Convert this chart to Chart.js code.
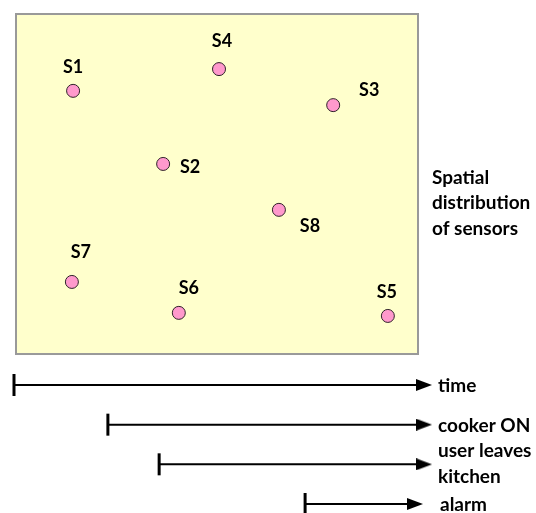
<!DOCTYPE html>
<html>
<head>
<meta charset="utf-8">
<script src="https://cdn.jsdelivr.net/npm/chart.js@4.4.1/dist/chart.umd.min.js"></script>
<style>
  html, body { margin: 0; padding: 0; background: #ffffff; }
  #wrap { width: 536px; height: 513px; position: relative; }
</style>
</head>
<body>
<div id="wrap"><canvas id="c"></canvas></div>
<script>
// ---- Data ----
const sensorNames = ['S1', 'S2', 'S3', 'S4', 'S5', 'S6', 'S7', 'S8'];
const sensorX = [1.42, 3.66, 7.89, 5.05, 9.25, 4.05, 1.39, 6.54];   // room x (0-10)
const sensorY = [7.74, 5.59, 7.32, 8.38, 1.12, 1.21, 2.12, 4.24];   // room y (0-10)

const eventLabels = [['time'], ['cooker ON'], ['user leaves', 'kitchen'], ['alarm']];
const eventStart = [0, 22.9, 35.4, 71.0];
const eventEnd = [100, 100, 100, 97.8];
const eventRow = [0, 1, 2, 3];

const sideTitle = ['Spatial', 'distribution', 'of sensors'];

// ---- Styles / layout ----
// label offset from its sensor (px), baseline-based
const labelOffsets = [[0, -18], [27, 9], [36, -9], [3, -22], [-1, -18], [10, -19], [9, -24], [31, 22]];
const labelIndent = [20, 20, 20, 22];
const FONT = 'Lato, "Open Sans", "Liberation Sans", sans-serif';

// arrowhead image
const arrowImg = document.createElement('canvas');
arrowImg.width = 16; arrowImg.height = 12;
(function () {
  const g = arrowImg.getContext('2d');
  g.fillStyle = '#000';
  g.beginPath();
  g.moveTo(0, 0); g.lineTo(16, 6); g.lineTo(0, 12); g.closePath();
  g.fill();
})();

const datasets = [{
  type: 'scatter',
  xAxisID: 'x', yAxisID: 'y',
  data: sensorX.map((x, i) => ({ x: x, y: sensorY[i] })),
  pointRadius: 6.5,
  pointBackgroundColor: '#FF99CC',
  pointBorderColor: '#2e2228',
  pointBorderWidth: 1,
  clip: false
}];

eventStart.forEach((s, i) => {
  datasets.push({
    type: 'line',
    xAxisID: 'xt', yAxisID: 'yr',
    data: [{ x: s, y: eventRow[i] }, { x: eventEnd[i], y: eventRow[i] }],
    borderColor: '#000',
    borderWidth: 2,
    pointStyle: ['line', arrowImg],
    pointRotation: [90, 0],
    pointRadius: [11, 8],
    pointBorderWidth: [3, 0],
    pointBorderColor: '#000',
    pointBackgroundColor: '#000',
    clip: false,
    fill: false
  });
});

const decor = {
  id: 'decor',
  beforeDatasetsDraw(chart) {
    const ctx = chart.ctx;
    const sx = chart.scales.x, sy = chart.scales.y;
    const l = sx.getPixelForValue(0), r = sx.getPixelForValue(10);
    const t = sy.getPixelForValue(10), b = sy.getPixelForValue(0);
    ctx.save();
    ctx.fillStyle = '#FFFFCC';
    ctx.fillRect(l, t, r - l, b - t);
    ctx.strokeStyle = '#999999';
    ctx.lineWidth = 2;
    ctx.strokeRect(l, t, r - l, b - t);
    ctx.restore();
  },
  afterDatasetsDraw(chart) {
    const ctx = chart.ctx;
    const sx = chart.scales.x, sy = chart.scales.y, yr = chart.scales.yr;
    ctx.save();
    ctx.fillStyle = '#000';
    ctx.textBaseline = 'alphabetic';
    // sensor labels
    ctx.font = 'bold 18px ' + FONT;
    ctx.textAlign = 'center';
    sensorNames.forEach((n, i) => {
      const px = sx.getPixelForValue(sensorX[i]) + labelOffsets[i][0];
      const py = sy.getPixelForValue(sensorY[i]) + labelOffsets[i][1];
      ctx.fillText(n, px, py);
    });
    // side title
    ctx.textAlign = 'left';
    ctx.font = 'bold 19px ' + FONT;
    const boxRight = sx.getPixelForValue(10);
    const boxMid = (sy.getPixelForValue(10) + sy.getPixelForValue(0)) / 2;
    sideTitle.forEach((s, i) => ctx.fillText(s, boxRight + 14, boxMid + (i - 1) * 25.5 + 25));
    // event labels
    eventLabels.forEach((lines, i) => {
      const py = yr.getPixelForValue(eventRow[i]);
      const n = lines.length;
      lines.forEach((s, k) => {
        ctx.fillText(s, boxRight + labelIndent[i], py + 7 - (n - 1) * 14 + k * 26);
      });
    });
    ctx.restore();
  }
};

new Chart(document.getElementById('c'), {
  data: { datasets: datasets },
  options: {
    responsive: true,
    maintainAspectRatio: false,
    animation: false,
    layout: { padding: 0, autoPadding: false },
    plugins: { legend: { display: false }, tooltip: { enabled: false } },
    scales: {
      // room coordinates: box spans 0..10 in both directions
      x: { type: 'linear', min: -0.398, max: 12.935, display: false },
      y: { type: 'linear', min: -4.676, max: 10.412, display: false },
      // time axis and event rows
      xt: { type: 'linear', axis: 'x', position: 'bottom', min: -3.4146, max: 127.317, display: false },
      yr: { type: 'linear', axis: 'y', position: 'left', min: -9.706, max: 3.227, reverse: true, display: false }
    }
  },
  plugins: [decor]
});
</script>
</body>
</html>
